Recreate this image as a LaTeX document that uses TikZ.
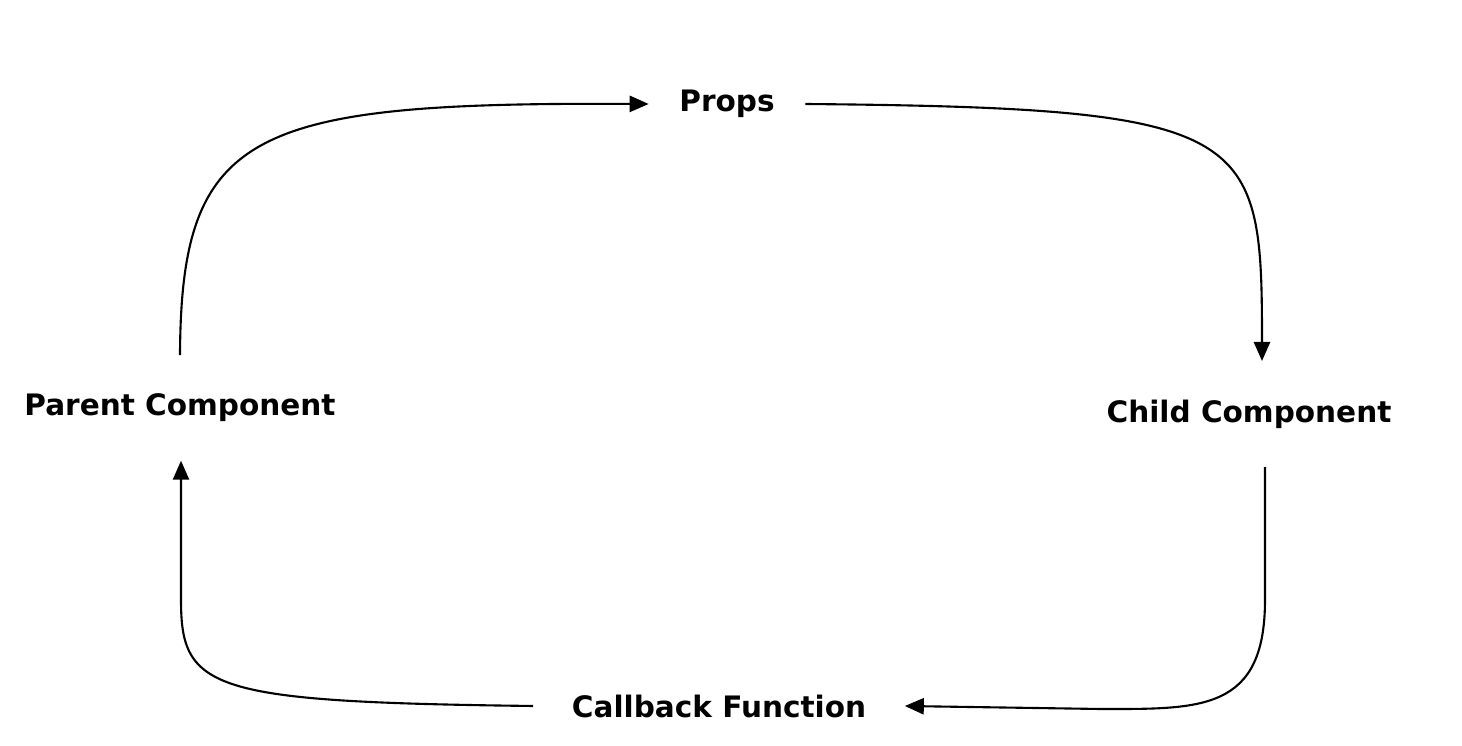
\documentclass[tikz,border=0pt]{standalone}
\usepackage{fontspec}
\setmainfont{DejaVu Sans}
\usepackage{tikz}
\usetikzlibrary{positioning,arrows.meta}

\begin{document}
\begin{tikzpicture}[x=0.01cm,y=-0.01cm,
	comp/.style={font=\fontsize{8.4}{10}\selectfont\bfseries, inner xsep=0.38cm, inner ysep=0.38cm},
	flow/.style={line width=0.6pt, -{Triangle[length=5.4pt,width=4.6pt]}}]
	
	\useasboundingbox (0,0) rectangle (1462,746);
	
	\node[comp] (parent) at (180,408) {Parent Component};
	\node[comp] (child) at (1249,414) {Child Component};
	\node[comp, inner xsep=0.3cm] (props) at (727,104) {Props};
	\node[comp] (callback) at (719,706) {Callback Function};
	
	\draw[flow] (parent.north) .. controls (181,130) and (250,102) .. (props.west);
	\draw[flow] (props.east) .. controls (1255,108) and (1262,130) .. ([xshift=0.13cm]child.north);
	\draw[flow] ([xshift=0.16cm]child.south) -- (1265,600) .. controls (1265,712) and (1200,709) .. (1100,709) -- (callback.east);
	\draw[flow] (callback.west) .. controls (210,702) and (181,690) .. (181,600) -- ([xshift=0.01cm]parent.south);
\end{tikzpicture}
\end{document}
